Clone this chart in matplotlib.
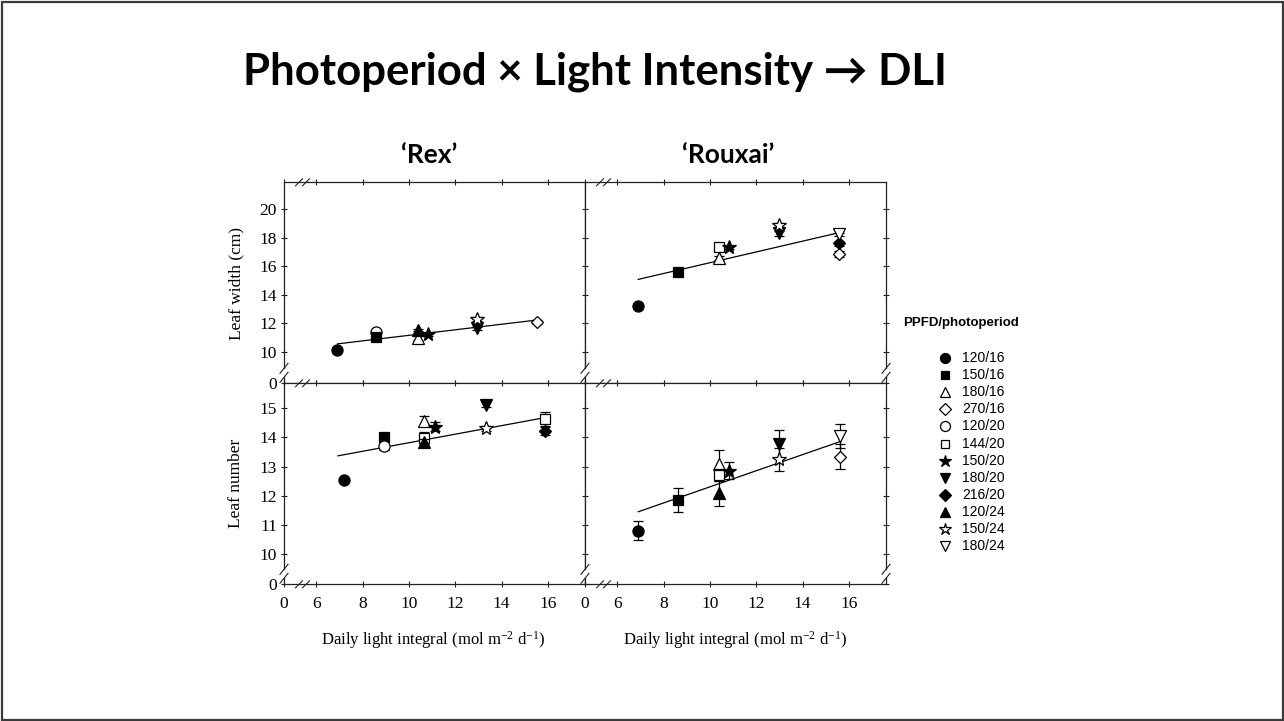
import matplotlib
matplotlib.use('Agg')
import matplotlib.pyplot as plt
from matplotlib.patches import Rectangle

W, H = 1284, 721
plt.rcParams['mathtext.fontset'] = 'custom'
plt.rcParams['mathtext.rm'] = 'Liberation Serif'
plt.rcParams['mathtext.it'] = 'Liberation Serif:italic'
plt.rcParams['mathtext.default'] = 'regular'

# ---------------- data ----------------
treatments = ['120/16', '150/16', '180/16', '270/16', '120/20', '144/20',
              '150/20', '180/20', '216/20', '120/24', '150/24', '180/24']
markers = ['o', 's', '^', 'D', 'o', 's', '*', 'v', 'D', '^', '*', 'v']
filled = [True, True, False, False, False, False, True, True, True, True, False, False]
msizes = [8, 7, 8, 6.5, 8, 7, 10, 8, 6.5, 8, 10, 8]

# 'Rex' leaf width (cm)
rex_w_trt = ['120/16', '120/20', '150/16', '180/16', '120/24', '150/20', '180/20', '150/24', '270/16']
rex_w_dli = [6.91, 8.56, 8.56, 10.37, 10.37, 10.82, 12.95, 12.95, 15.52]
rex_w_mean = [10.12, 11.40, 11.05, 10.94, 11.52, 11.22, 11.64, 12.30, 12.10]
rex_w_se = [0.12, 0.10, 0.10, 0.15, 0.10, 0.10, 0.12, 0.12, 0.12]
rex_w_fit_x = [6.91, 15.55]
rex_w_fit_y = [10.55, 12.23]

# 'Rouxai' leaf width (cm)
rou_w_trt = ['120/16', '150/16', '180/16', '144/20', '150/20', '180/20', '150/24', '270/16', '216/20', '180/24']
rou_w_dli = [6.90, 8.60, 10.37, 10.37, 10.82, 13.00, 13.00, 15.57, 15.57, 15.57]
rou_w_mean = [13.21, 15.62, 16.60, 17.37, 17.33, 18.31, 18.90, 16.86, 17.61, 18.24]
rou_w_se = [0.18, 0.20, 0.15, 0.10, 0.10, 0.15, 0.15, 0.20, 0.15, 0.10]
rou_w_fit_x = [6.90, 15.57]
rou_w_fit_y = [15.08, 18.36]

# 'Rex' leaf number
rex_n_trt = ['120/16', '150/16', '120/20', '180/16', '144/20', '120/24', '150/20', '180/20', '150/24', '144/20', '216/20']
rex_n_dli = [7.19, 8.91, 8.91, 10.65, 10.65, 10.65, 11.14, 13.31, 13.31, 15.86, 15.86]
rex_n_mean = [12.53, 14.03, 13.72, 14.57, 13.99, 13.83, 14.37, 15.13, 14.31, 14.63, 14.22]
rex_n_se = [0.07, 0.08, 0.15, 0.18, 0.20, 0.12, 0.15, 0.08, 0.10, 0.25, 0.15]
rex_n_fit_x = [6.93, 15.86]
rex_n_fit_y = [13.37, 14.68]

# 'Rouxai' leaf number
rou_n_trt = ['120/16', '150/16', '180/16', '144/20', '120/24', '150/20', '180/20', '150/24', '180/24', '270/16']
rou_n_dli = [6.90, 8.60, 10.40, 10.40, 10.40, 10.80, 13.00, 13.00, 15.62, 15.62]
rou_n_mean = [10.80, 11.85, 13.09, 12.71, 12.08, 12.86, 13.78, 13.25, 14.06, 13.34]
rou_n_se = [0.33, 0.42, 0.47, 0.20, 0.42, 0.30, 0.47, 0.39, 0.41, 0.42]
rou_n_fit_x = [6.90, 15.62]
rou_n_fit_y = [11.45, 13.86]

x_ticks = [4.6, 6, 8, 10, 12, 14, 16]
x_ticklabels = ['0', '6', '8', '10', '12', '14', '16']
w_ticks = [7.78, 10, 12, 14, 16, 18, 20]
w_ticklabels = ['0', '10', '12', '14', '16', '18', '20']
n_ticks = [8.96, 10, 11, 12, 13, 14, 15]
n_ticklabels = ['0', '10', '11', '12', '13', '14', '15']

# ---------------- figure ----------------
fig = plt.figure(figsize=(W / 100, H / 100), dpi=100)
fx = lambda px: px / W
fy = lambda py: 1 - py / H

pw, ph = 301, 201
axTL = fig.add_axes([fx(284), fy(383.3), pw / W, ph / H])
axTR = fig.add_axes([fx(585), fy(383.3), pw / W, ph / H])
axBL = fig.add_axes([fx(284), fy(584.3), pw / W, ph / H])
axBR = fig.add_axes([fx(585), fy(584.3), pw / W, ph / H])

SERIF = 'Liberation Serif'
SPC = '#222222'


def draw(ax, trt, xs, ys, es, fitx, fity):
    ax.plot(fitx, fity, color='black', lw=0.9, zorder=2)
    for k, (t, x, y, e) in enumerate(zip(trt, xs, ys, es)):
        i = treatments.index(t)
        z = 3 + 0.01 * k
        ax.errorbar(x, y, yerr=e, fmt='none', ecolor='black', elinewidth=0.9,
                    capsize=3.5, capthick=0.9, zorder=z)
        ax.plot(x, y, marker=markers[i], ms=msizes[i], ls='none',
                mfc='black' if filled[i] else 'white', mec='black', mew=0.9,
                zorder=z + 0.005)


def style(ax, yticks, yticklabels, ylim, left_labels, xlabels, right_ticks):
    ax.set_xlim(4.6, 17.6)
    ax.set_ylim(*ylim)
    ax.set_xticks(x_ticks)
    ax.set_xticklabels(x_ticklabels if xlabels else [''] * len(x_ticks))
    ax.set_yticks(yticks)
    ax.set_yticklabels(yticklabels if left_labels else [''] * len(yticks))
    for s in ax.spines.values():
        s.set_color(SPC)
        s.set_linewidth(0.9)
    ax.tick_params(axis='both', direction='inout', length=5, width=0.8, color=SPC,
                   labelsize=12.5, labelcolor='black')
    ax.tick_params(axis='x', top=True, bottom=True, pad=6)
    ax.tick_params(axis='y', left=True, right=right_ticks, pad=2.5)
    for lab in ax.get_xticklabels() + ax.get_yticklabels():
        lab.set_fontfamily(SERIF)


draw(axTL, rex_w_trt, rex_w_dli, rex_w_mean, rex_w_se, rex_w_fit_x, rex_w_fit_y)
draw(axTR, rou_w_trt, rou_w_dli, rou_w_mean, rou_w_se, rou_w_fit_x, rou_w_fit_y)
draw(axBL, rex_n_trt, rex_n_dli, rex_n_mean, rex_n_se, rex_n_fit_x, rex_n_fit_y)
draw(axBR, rou_n_trt, rou_n_dli, rou_n_mean, rou_n_se, rou_n_fit_x, rou_n_fit_y)

style(axTL, w_ticks, w_ticklabels, (7.78, 21.9), True, False, False)
style(axTR, w_ticks, w_ticklabels, (7.78, 21.9), False, False, True)
style(axBL, n_ticks, n_ticklabels, (8.96, 15.86), True, True, False)
style(axBR, n_ticks, n_ticklabels, (8.96, 15.86), False, True, True)

# ---------------- overlay (pixel coordinates) ----------------
ov = fig.add_axes([0, 0, 1, 1], zorder=10)
ov.set_xlim(0, W)
ov.set_ylim(H, 0)
ov.axis('off')
ov.patch.set_alpha(0)

# slide border
ov.add_patch(Rectangle((1.5, 1.5), W - 3, H - 3, fill=False, ec='#3a3a3a', lw=1.6))

# axis break marks on horizontal spines (between 0 and 6)
for x0 in (284, 585):
    for yy in (182.3, 383.3, 584.3):
        for cx in (x0 + 15, x0 + 22):
            ov.plot([cx - 3.5, cx + 3.5], [yy + 3.5, yy - 3.5], color=SPC, lw=0.8)
# axis break marks on vertical spines (near panel bottoms)
for xx in (284, 585, 886):
    for yb in (383.3, 584.3):
        ov.plot([xx, xx], [yb - 13, yb - 8], color='white', lw=2.0)
        for cy in (yb - 6, yb - 15):
            ov.plot([xx - 4, xx + 4], [cy + 5, cy - 5], color=SPC, lw=0.8)

# titles
ov.text(595, 84.3, 'Photoperiod × Light Intensity → DLI', ha='center', va='baseline',
        fontsize=31.5, fontweight='bold', family=['Lato', 'DejaVu Sans'])
ov.text(429, 163.3, '‘Rex’', ha='center', va='baseline', fontsize=19,
        fontweight='bold', family=['Lato', 'DejaVu Sans'])
ov.text(728.6, 163.3, '‘Rouxai’', ha='center', va='baseline', fontsize=19,
        fontweight='bold', family=['Lato', 'DejaVu Sans'])

# axis labels
ov.text(236, 283, 'Leaf width (cm)', rotation=90, ha='center', va='center',
        fontsize=12.5, family=SERIF)
ov.text(236, 483.5, 'Leaf number', rotation=90, ha='center', va='center',
        fontsize=12.5, family=SERIF)
xlab = r'Daily light integral (mol m$^{-2}$ d$^{-1}$)'
ov.text(433, 640, xlab, ha='center', va='center', fontsize=12, family=SERIF)
ov.text(735, 640, xlab, ha='center', va='center', fontsize=12, family=SERIF)

# legend
ov.text(903, 323, 'PPFD/photoperiod', ha='left', va='center', fontsize=9.5,
        fontweight='bold', family='Liberation Sans')
for i, t in enumerate(treatments):
    yy = 358.3 + i * 17.04
    ov.plot(945, yy, marker=markers[i], ms=msizes[i] * 0.9, ls='none',
            mfc='black' if filled[i] else 'white', mec='black', mew=0.9)
    ov.text(962, yy, t, ha='left', va='center', fontsize=10, family='Liberation Sans')

fig.savefig('out.png', dpi=100)
